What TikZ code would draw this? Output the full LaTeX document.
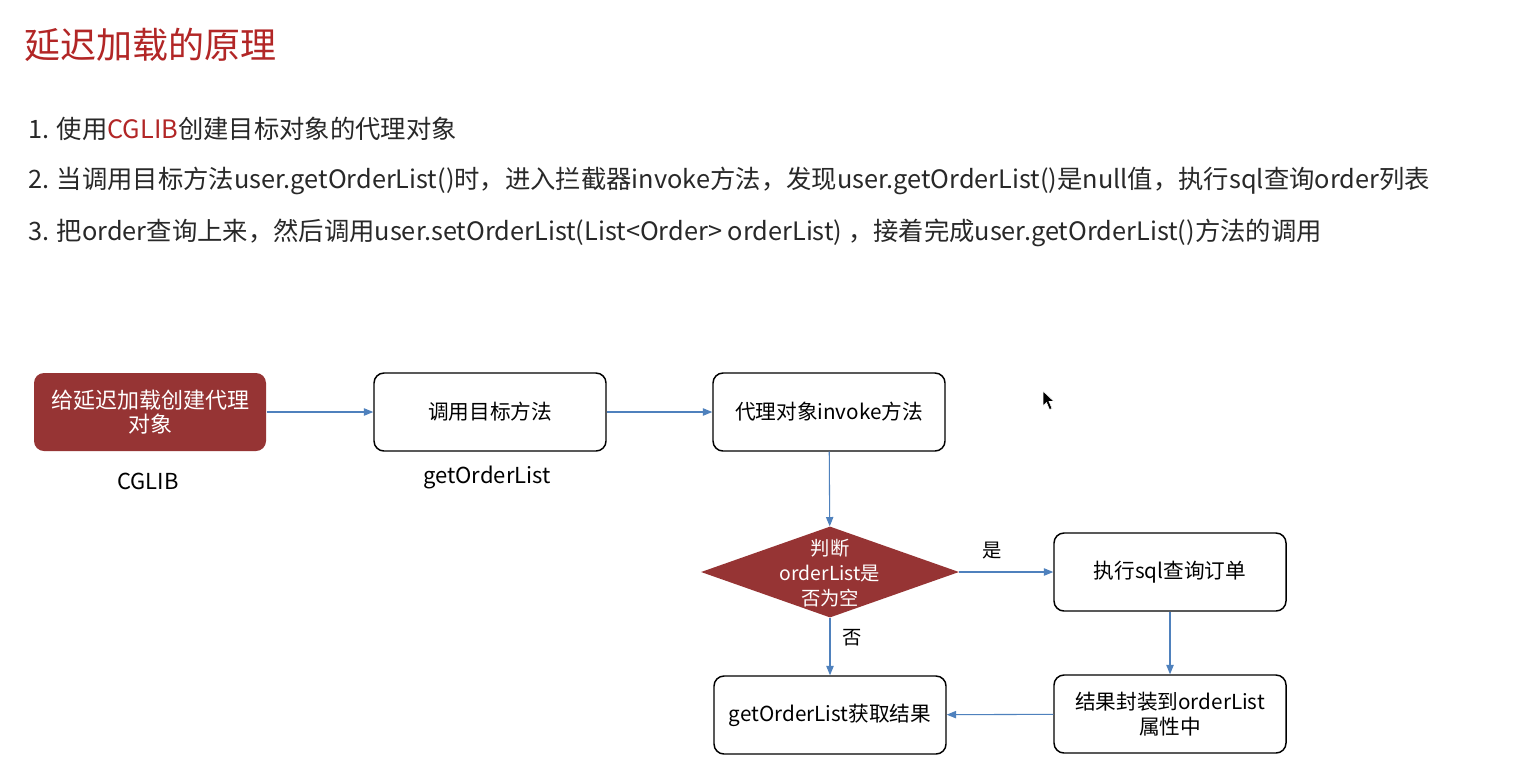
\documentclass[tikz,border=0pt]{standalone}
\usepackage{fontspec}
\setmainfont{Noto Sans CJK SC}
\usetikzlibrary{arrows.meta,shapes.geometric}
\definecolor{titlered}{RGB}{178,38,38}
\definecolor{boxred}{RGB}{150,52,52}
\definecolor{flowblue}{RGB}{79,129,189}
\definecolor{bodytext}{RGB}{40,40,40}
\begin{document}
\begin{tikzpicture}[x=0.75pt,y=-0.75pt,
  stepbox/.style={draw=black,line width=1.1pt,rounded corners=7.5pt,fill=white,
    minimum width=174pt,minimum height=58.5pt,align=center,inner sep=2pt,
    font=\fontsize{15.5}{18}\selectfont},
  redbox/.style={stepbox,draw=none,fill=boxred,text=white,font=\fontsize{16.5}{18}\selectfont},
  flow/.style={draw=flowblue,line width=0.8pt,-{Triangle[length=7pt,width=5.5pt]}},
  caption/.style={font=\fontsize{16.5}{18}\selectfont,text=black},
  mark label/.style={text=black,font=\fontsize{14.5}{16}\selectfont},
  listline/.style={anchor=west,inner sep=0pt,text=bodytext,font=\fontsize{19}{22}\selectfont}]
\useasboundingbox (0,0) rectangle (1534,776);
\fill[white] (0,0) rectangle (1534,776);

% heading and the three explanatory lines
\node[anchor=west,inner sep=0pt,text=titlered,font=\fontsize{27}{30}\selectfont] (title) at (24,45) {延迟加载的原理};
\node[listline] (l1) at (28,129) {1. 使用\textcolor{titlered}{CGLIB}创建目标对象的代理对象};
\node[listline] (l2) at (28,181) {2. 当调用目标方法user.getOrderList()时，进入拦截器invoke方法，发现user.getOrderList()是null值，执行sql查询order列表};
\node[listline] (l3) at (28,233) {3. 把order查询上来，然后调用user.setOrderList(List<Order> orderList) ，接着完成user.getOrderList()方法的调用};

% flow nodes
\node[redbox] (proxy) at (150,412) {给延迟加载创建代理\\[0pt]对象};
\node[stepbox] (call) at (490,412) {调用目标方法};
\node[stepbox] (invoke) at (829,412) {代理对象invoke方法};
\node[diamond,fill=boxred,minimum width=193.5pt,minimum height=68.25pt,inner sep=0pt] (check) at (830,572) {};
\node[align=center,text=white,inner sep=0pt,font=\fontsize{14.5}{18.5}\selectfont] (checktxt) at (830,573) {判断\\orderList是\\否为空};
\node[stepbox] (sql) at (1170,572) {执行sql查询订单};
\node[stepbox] (wrap) at (1170,714) {结果封装到orderList\\[1pt]属性中};
\node[stepbox] (result) at (830,715) {getOrderList获取结果};

% captions under the first two boxes
\node[caption] (cglib) at (148,481) {CGLIB};
\node[caption] (getter) at (487,477) {getOrderList};

% connectors
\draw[flow] (proxy) -- (call);
\draw[flow] (call) -- (invoke);
\draw[flow] (invoke) -- (check);
\draw[flow] (check.east) -- node[above,pos=0.35,yshift=6pt,mark label] (yes) {是} (sql.west);
\draw[flow] (check.south) -- node[right,pos=0.35,xshift=6pt,mark label] (no) {否} (result.north);
\draw[flow] (sql) -- (wrap);
\draw[flow] (wrap) -- (result);

% mouse pointer
\filldraw[fill=black,draw=white,line width=0.4pt]
  (1043,391) -- (1043,406) -- (1046.5,402.5) -- (1049.5,409.5) -- (1052,408.5)
  -- (1049,401.5) -- (1054,401.5) -- cycle;
\end{tikzpicture}
\end{document}
